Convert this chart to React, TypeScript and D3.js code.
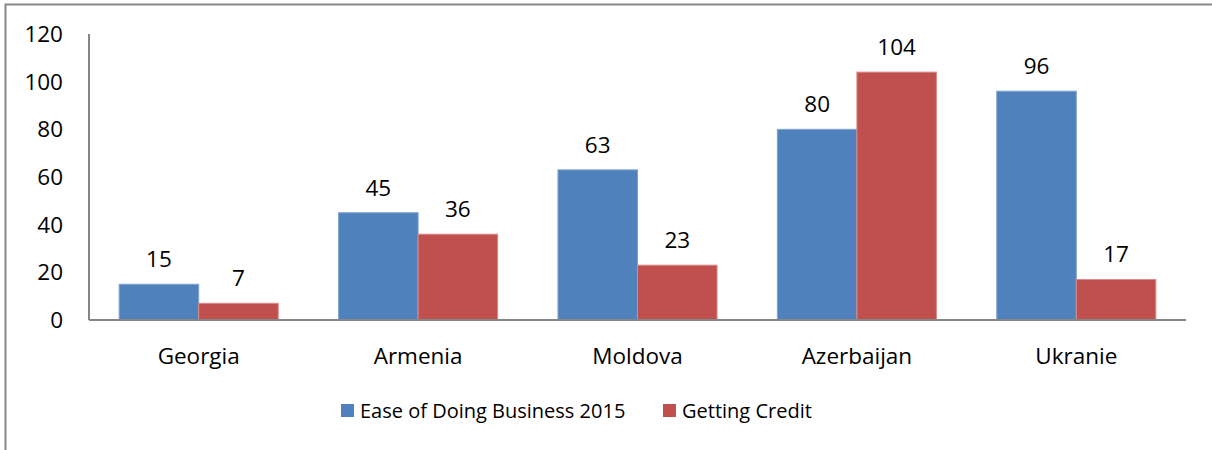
import React from "react";
import * as d3 from "d3";

const categories = ["Georgia", "Armenia", "Moldova", "Azerbaijan", "Ukranie"];
const easeOfDoingBusiness = [15, 45, 63, 80, 96];
const gettingCredit = [7, 36, 23, 104, 17];
const seriesNames = ["Ease of Doing Business 2015", "Getting Credit"];
const yTicks = [0, 20, 40, 60, 80, 100, 120];

const colors = ["#4F81BD", "#C0504D"];
const strokeColors = ["#7FA3D0", "#D98A88"];
const FONT = "'Open Sans', 'Noto Sans', sans-serif";
const FS = 22.5;
const LFS = 20;

export default function App() {
  const W = 1212, H = 450;
  const x0 = 89, x1 = 1186, yTop = 34, yBase = 320;
  const y = d3.scaleLinear().domain([0, 120]).range([yBase, yTop]);
  const xb = d3.scaleBand().domain(categories).range([x0, x1]).paddingInner(0.275).paddingOuter(0.1375);
  const xs = d3.scaleBand().domain(["0", "1"]).range([0, xb.bandwidth()]);
  const series = [easeOfDoingBusiness, gettingCredit];
  const legendX = [341, 663];

  return (
    <svg width={W} height={H} style={{ position: "absolute", left: 0, top: 0, background: "#fff" }}>
      <rect x={5.5} y={4.5} width={W + 10} height={H + 10} fill="none" stroke="#888" strokeWidth={2} />
      {yTicks.map((t) => (
        <text key={t} x={63} y={y(t)} dy="0.357em" textAnchor="end" fontFamily={FONT} fontSize={FS} fill="#000">
          {t}
        </text>
      ))}
      {categories.map((c, i) => (
        <g key={c}>
          {series.map((s, si) => {
            const bx = (xb(c) as number) + (xs(String(si)) as number);
            const bw = xs.bandwidth();
            return (
              <g key={si}>
                <rect x={bx} y={y(s[i])} width={bw} height={yBase - y(s[i])} fill={colors[si]} stroke={strokeColors[si]} strokeWidth={1} />
                <text x={bx + bw / 2} y={y(s[i]) - 17} textAnchor="middle" fontFamily={FONT} fontSize={FS} fill="#000">
                  {s[i]}
                </text>
              </g>
            );
          })}
          <text x={(xb(c) as number) + xb.bandwidth() / 2} y={364} textAnchor="middle" fontFamily={FONT} fontSize={FS} fill="#000">
            {c}
          </text>
        </g>
      ))}
      <line x1={x0} x2={x0} y1={yTop} y2={yBase} stroke="#868686" strokeWidth={2} />
      <line x1={x0} x2={x1} y1={yBase} y2={yBase} stroke="#868686" strokeWidth={2} />
      {seriesNames.map((n, i) => (
        <g key={n}>
          <rect x={legendX[i]} y={404} width={13} height={13} fill={colors[i]} />
          <text x={legendX[i] + 19} y={418} fontFamily={FONT} fontSize={LFS} fill="#000">
            {n}
          </text>
        </g>
      ))}
    </svg>
  );
}
